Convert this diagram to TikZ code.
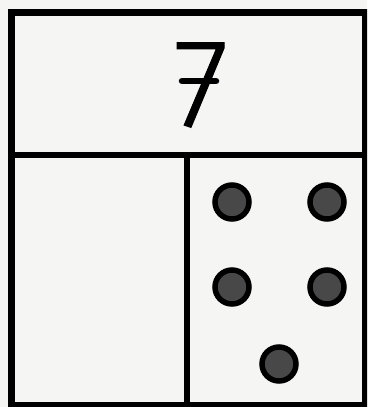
\documentclass[tikz,border=0pt]{standalone}
\usepackage{fontspec}
\newfontfamily\sevenfont[FakeBold=0.8]{Fira Sans Light}
\definecolor{paper}{HTML}{F5F5F3}
\definecolor{dotgray}{HTML}{484848}
\begin{document}
\begin{tikzpicture}[x=1pt,y=-1pt,
  frame/.style={line width=6.5pt, draw=black},
  counter/.style={circle, draw=black, line width=5.5pt, fill=dotgray, minimum size=34pt, inner sep=0pt},
  numeral/.style={font=\sevenfont\fontsize{126}{126}\selectfont, inner sep=0pt},
  crossbar/.style={line width=6.5pt, line cap=round}]
\useasboundingbox[fill=paper] (0,0) rectangle (367,407);
\begin{scope}
\clip (0,0) rectangle (367,407);
\draw[frame] (11.5,12.5) rectangle (365.5,405.5);
\draw[frame] (11.5,155) -- (365.5,155);
\draw[frame] (187,155) -- (187,405.5);
\end{scope}
\node[numeral] (seven) at (201,85) {7};
\coordinate (barL) at (182,81);
\coordinate (barR) at (216,81);
\draw[crossbar] (barL) -- (barR);
\node[counter] (d1) at (232,202) {};
\node[counter] (d2) at (327,202) {};
\node[counter] (d3) at (232,287) {};
\node[counter] (d4) at (327,287) {};
\node[counter] (d5) at (279,364) {};
\end{tikzpicture}
\end{document}
